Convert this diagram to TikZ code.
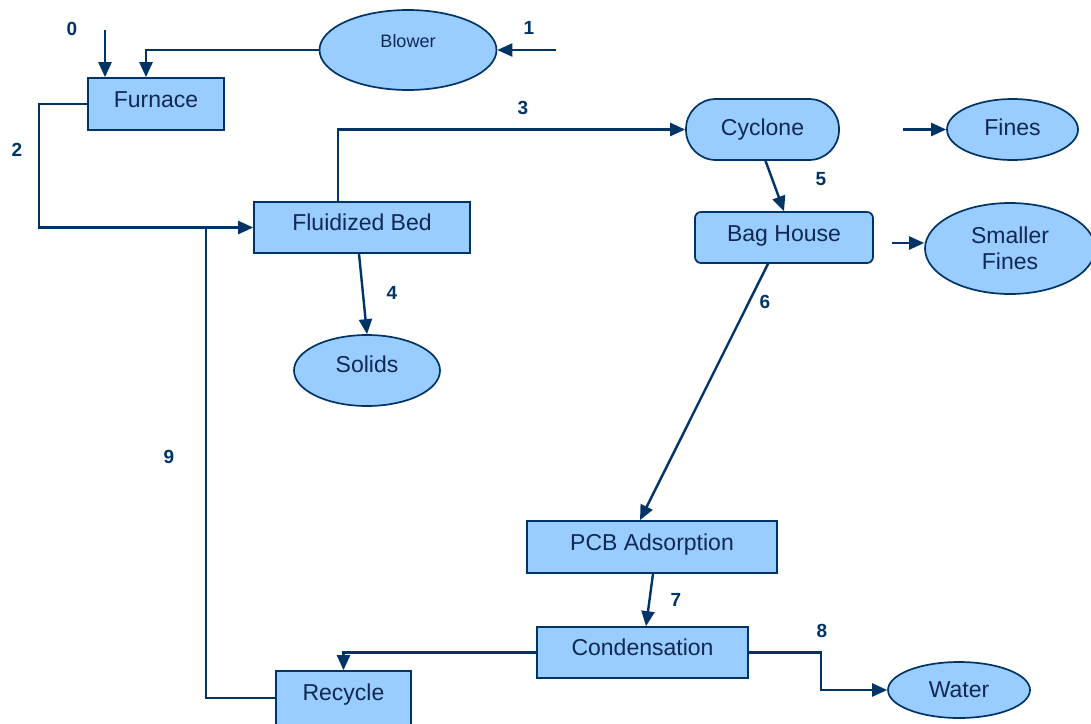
\documentclass[tikz,border=0pt]{standalone}
\usepackage{fontspec}
\setmainfont{Liberation Sans}
\usetikzlibrary{arrows.meta,shapes.geometric}
\definecolor{boxfill}{RGB}{153,204,255}
\definecolor{navy}{RGB}{0,51,102}
\definecolor{txt}{RGB}{16,40,82}
\newcommand{\tx}[2]{\raisebox{#1pt}[0pt][0pt]{#2}}
\begin{document}
\begin{tikzpicture}[x=1pt,y=-1pt,
  base/.style={draw=navy,line width=1.7pt,fill=boxfill,text=txt,inner sep=0pt,
    font=\fontsize{23}{26}\selectfont},
  proc/.style={base,rectangle},
  rproc/.style={base,rectangle,rounded corners=6pt},
  term/.style={base,ellipse},
  flow/.style={draw=navy,line width=2.4pt,-{Triangle[length=15pt,width=13pt]}},
  line/.style={draw=navy,line width=2.4pt},
  lab/.style={text=navy,font=\fontsize{19}{22}\selectfont\bfseries}]
\useasboundingbox (0,0) rectangle (1091,723);

% nodes
\node[term,minimum width=177pt,minimum height=80pt,font=\fontsize{18}{21}\selectfont] (blower) at (408,50) {\tx{2.5}{Blower}};
\node[proc,minimum width=136pt,minimum height=52pt] (furn) at (156,104) {\tx{-3.2}{Furnace}};
\node[proc,minimum width=216pt,minimum height=51pt] (fb) at (362,227.5) {\tx{-2.7}{Fluidized Bed}};
\node[base,rectangle,rounded corners=30pt,minimum width=153pt,minimum height=61pt] (cyc) at (762.5,129.5) {\tx{-5.7}{Cyclone}};
\node[term,minimum width=131pt,minimum height=61pt] (fines) at (1012.5,129.5) {\tx{-5.7}{Fines}};
\node[rproc,minimum width=178pt,minimum height=51pt] (bag) at (784,237.5) {\tx{-3.7}{Bag House}};
\node[term,minimum width=170pt,minimum height=91pt,align=center] (sf) at (1010,248.5) {Smaller\\Fines};
\node[term,minimum width=146pt,minimum height=71pt] (sol) at (367,370.5) {\tx{-1.7}{Solids}};
\node[proc,minimum width=250pt,minimum height=52pt] (pcb) at (652,547) {\tx{-3.2}{PCB Adsorption}};
\node[proc,minimum width=211pt,minimum height=51pt] (cond) at (642.5,652.5) {\tx{-2.7}{Condensation}};
\node[proc,minimum width=135pt,minimum height=54pt] (rec) at (343.5,698) {\tx{-2.2}{Recycle}};
\node[term,minimum width=142pt,minimum height=56pt] (water) at (959,690) {\tx{-7.2}{Water}};

% free ends
\coordinate (in0) at (105,30);
\coordinate (in1) at (556,50);
\coordinate (j9) at (206,227.5);
\coordinate (fo) at (903,129.5);
\coordinate (sfo) at (892,243);

% connectors
\draw[flow] (in0) -- (in0 |- furn.north);
\draw[flow] (blower.west) -| ([xshift=-10pt]furn.north);
\draw[flow] (in1) -- (blower.east);
\draw[flow] (furn.west) -- ++(-48,0) |- (fb.west);
\draw[line] (rec.west) -| (j9);
\draw[flow] ([xshift=-24pt]fb.north) |- (cyc.west);
\draw[flow] ([xshift=-3pt]fb.south) -- (sol.north);
\draw[flow] ([xshift=3pt]cyc.south) -- (bag.north);
\draw[flow] (fo) -- (fines.west);
\draw[flow] (sfo) -- (sfo -| sf.west);
\draw[flow] ([xshift=-16pt]bag.south) -- ([xshift=-12pt]pcb.north);
\draw[flow] ([xshift=1pt]pcb.south) -- ([xshift=3.5pt]cond.north);
\draw[flow] (cond.west) -| (rec.north);
\draw[flow] (cond.east) -- ++(72,0) |- (water.west);

% labels
\node[lab] (l0) at (72,29) {0};
\node[lab] (l1) at (529,28) {1};
\node[lab] (l2) at (17,150) {2};
\node[lab] (l3) at (523,108) {3};
\node[lab] (l4) at (392,293) {4};
\node[lab] (l5) at (821,179) {5};
\node[lab] (l6) at (765,302) {6};
\node[lab] (l7) at (676,600) {7};
\node[lab] (l8) at (822,631) {8};
\node[lab] (l9) at (169,457) {9};
\end{tikzpicture}
\end{document}
